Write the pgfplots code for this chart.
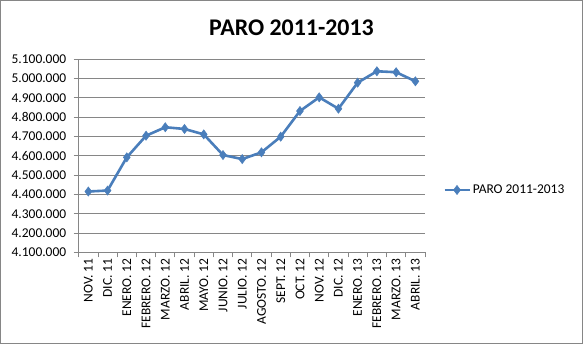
\documentclass[border=0pt]{standalone}
\usepackage{pgfplots}
\pgfplotsset{compat=1.18}
\usepackage{fontspec}
\setmainfont{Carlito}
\definecolor{lineblue}{HTML}{4A7EBB}
\definecolor{gridgray}{HTML}{868686}
\begin{document}
\begin{tikzpicture}[x=1bp,y=1bp]
\draw[gridgray, line width=1bp] (0.5,0.5) rectangle (582.5,343.5);
\node[font=\fontsize{24}{28}\selectfont\bfseries] at (291.5,316) {PARO 2011-2013};
\begin{axis}[
  at={(78.7bp,91.7bp)}, anchor=south west,
  scale only axis, width=346.3bp, height=193bp,
  xmin=-0.5, xmax=17.5, ymin=4100000, ymax=5100000,
  ytick={4100000,4200000,...,5100000},
  xtick={0,...,17},
  xticklabels={NOV. 11,DIC. 11,ENERO. 12,FEBRERO. 12,MARZO. 12,ABRIL. 12,MAYO. 12,JUNIO. 12,JULIO. 12,AGOSTO. 12,SEPT. 12,OCT. 12,NOV. 12,DIC. 12,ENERO. 13,FEBRERO. 13,MARZO. 13,ABRIL. 13},
  minor xtick={-0.5,0.5,...,17.5},
  axis lines=left, axis line style={gridgray, line width=0.8bp, -},
  ymajorgrids, grid style={gridgray, line width=0.8bp},
  tick align=outside, tick style={gridgray, line width=0.8bp},
  major tick length=5bp, minor tick length=5bp,
  xtick style={draw=none}, minor x tick style={draw=gridgray},
  scaled y ticks=false,
  yticklabel style={/pgf/number format/.cd, fixed, 1000 sep={.}, assume math mode=true, /tikz/.cd, xshift=-4bp},
  ticklabel style={font=\fontsize{13.5}{15}\selectfont, text=black},
  xticklabel style={rotate=90, anchor=east, inner sep=1bp},
  legend style={at={(1.052,0.323)}, anchor=west, draw=none, fill=none, font=\fontsize{13.5}{15}\selectfont, inner sep=0pt},
  legend cell align=left,
  legend image code/.code={\draw[mark repeat=2,mark phase=2,#1] plot coordinates {(0bp,0bp)(12.5bp,0bp)(25bp,0bp)};},
  clip=false,
]
\addplot[lineblue, line width=2.6bp, mark=diamond*, mark size=4.6bp, mark options={fill=lineblue, draw=lineblue, line width=0.5bp}] coordinates {
(0,4415000) (1,4420000) (2,4592000) (3,4704000) (4,4748000) (5,4739000)
(6,4711000) (7,4604000) (8,4583000) (9,4618000) (10,4699000) (11,4832000)
(12,4903000) (13,4844000) (14,4979000) (15,5038000) (16,5033000) (17,4986000)};
\addlegendentry{PARO 2011-2013}
\end{axis}
\end{tikzpicture}
\end{document}
